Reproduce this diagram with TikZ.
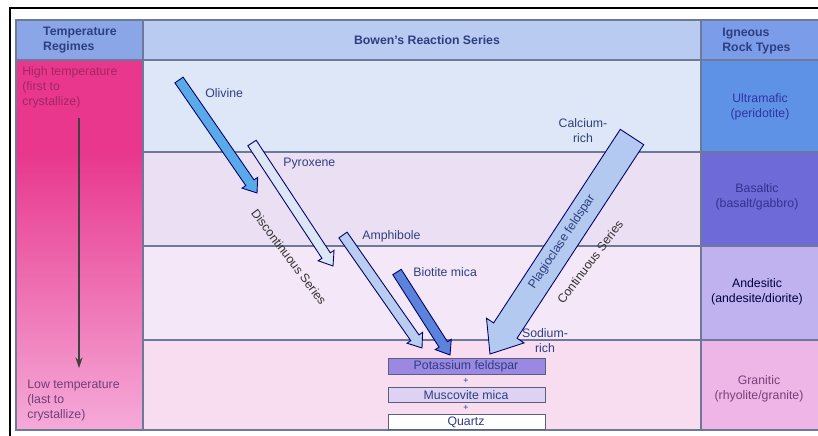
\documentclass[tikz,border=0pt]{standalone}
\usepackage{fontspec}
\setmainfont{Liberation Sans}
\usetikzlibrary{calc,arrows.meta}

% Farben der Tabelle
\definecolor{hdrleft}{HTML}{8AA6E6}
\definecolor{hdrmid}{HTML}{B9CBF1}
\definecolor{hdrright}{HTML}{7B9CE8}
\definecolor{tempdeep}{HTML}{E8378D}
\definecolor{templight}{HTML}{F5AAD9}
\definecolor{rowone}{HTML}{DDE7F7}
\definecolor{rowtwo}{HTML}{EBDFF4}
\definecolor{rowthree}{HTML}{F4E7F8}
\definecolor{rowfour}{HTML}{F8DDF1}
\definecolor{ultramafic}{HTML}{5D92E6}
\definecolor{basaltic}{HTML}{6E6AD8}
\definecolor{andesitic}{HTML}{BFB2EE}
\definecolor{granitic}{HTML}{EDB6E6}
\definecolor{gridgray}{HTML}{6E7898}
\definecolor{inkblue}{HTML}{2E3F80}
\definecolor{olivinecol}{HTML}{5AAAEA}
\definecolor{pyroxenecol}{HTML}{DDE6F5}
\definecolor{amphibolecol}{HTML}{B9CDF0}
\definecolor{biotitecol}{HTML}{5C83DB}
\definecolor{plagiocol}{HTML}{B3C9F0}
\definecolor{kfeldcol}{HTML}{9B88E2}
\definecolor{muscocol}{HTML}{DDD2F4}

% Blockpfeil: #1 Stil, #2 Ende, #3 Spitze, #4 halbe Schaftbreite, #5 halbe Kopfbreite, #6 Kopflänge
\newcommand{\reactionarrow}[6]{%
  \path ($(#3)!#6!(#2)$) coordinate (neck);
  \draw[#1] ($(#2)!#4!90:(#3)$) -- ($(neck)!#4!-90:(#2)$) -- ($(neck)!#5!-90:(#2)$)
    -- (#3) -- ($(neck)!#5!90:(#2)$) -- ($(neck)!#4!90:(#2)$) -- ($(#2)!#4!-90:(#3)$) -- cycle;
}

\begin{document}
\begin{tikzpicture}[x=0.02cm, y=-0.02cm,
  grid/.style={gridgray, line width=0.6pt},
  head/.style={font=\fontsize{7}{8.5}\selectfont\bfseries, text=inkblue, align=left, inner sep=0pt},
  lbl/.style={font=\fontsize{7}{8.5}\selectfont, text=inkblue, inner sep=0pt},
  rock/.style={font=\fontsize{7}{8.5}\selectfont, align=center, inner sep=0pt},
  mineral/.style={draw=gridgray!80!black, line width=0.5pt},
  series/.style={font=\fontsize{7}{8.5}\selectfont, text=black!80, inner sep=1pt}]

  \useasboundingbox (0,0) rectangle (818,436);

  % ==========================================
  % TABELLE : FLÄCHEN
  % ==========================================
  \fill[hdrleft] (16,20) rectangle (143,60);
  \fill[hdrmid] (143,20) rectangle (701,60);
  \fill[hdrright] (701,20) rectangle (818,60);

  % Temperaturspalte (dunkel oben, heller nach unten)
  \fill[tempdeep] (16,60) rectangle (143,152);
  \shade[top color=tempdeep, bottom color=templight] (16,152) rectangle (143,430);

  % Mittlerer Bereich
  \fill[rowone] (143,60) rectangle (701,152);
  \fill[rowtwo] (143,152) rectangle (701,246);
  \fill[rowthree] (143,246) rectangle (701,340);
  \fill[rowfour] (143,340) rectangle (701,430);

  % Gesteinsspalte
  \fill[ultramafic] (701,60) rectangle (818,152);
  \fill[basaltic] (701,152) rectangle (818,246);
  \fill[andesitic] (701,246) rectangle (818,340);
  \fill[granitic] (701,340) rectangle (818,430);

  % ==========================================
  % TABELLE : LINIEN
  % ==========================================
  \draw[black, line width=1.5pt] (10,436) -- (10,8) -- (818,8);
  \draw[grid] (818,20) -- (16,20) -- (16,430) -- (818,430);
  \draw[grid] (16,60) -- (818,60);
  \draw[grid] (143,20) -- (143,430);
  \draw[grid] (701,20) -- (701,430);
  \foreach \y in {152,246,340}
    \draw[grid] (143,\y) -- (818,\y);

  % ==========================================
  % KOPFZEILE
  % ==========================================
  \node[head] (regimes) at (80,40) {Temperature\\Regimes};
  \node[head] (bowen) at (427,40) {Bowen's Reaction Series};
  \node[head, anchor=west] (igneous) at (722,41) {Igneous\\Rock Types};

  % ==========================================
  % TEMPERATURSPALTE
  % ==========================================
  \node[lbl, text=tempdeep!70!black, align=left, anchor=north west] (hightemp) at (22,66)
    {High temperature\\(first to\\crystallize)};
  \node[lbl, text=black!55!magenta!60!blue, align=left, anchor=north west] (lowtemp) at (27,380)
    {Low temperature\\(last to\\crystallize)};
  \coordinate (tempstart) at (79,118);
  \coordinate (tempend) at (79,368);
  \draw[-{Stealth[length=6pt, width=4pt]}, black!75, line width=0.6pt] (tempstart) -- (tempend);

  % ==========================================
  % DISKONTINUIERLICHE REIHE
  % ==========================================
  \coordinate (olivine_tail) at (179,80);
  \coordinate (olivine_tip) at (257,193);
  \reactionarrow{fill=olivinecol, draw=black!60!blue, line width=0.5pt}{olivine_tail}{olivine_tip}{0.1cm}{0.19cm}{0.25cm}
  \node[lbl, anchor=west] (olivine) at (205,93) {Olivine};

  \coordinate (pyroxene_tail) at (252,143);
  \coordinate (pyroxene_tip) at (333,266);
  \reactionarrow{fill=pyroxenecol, draw=black!60!blue, line width=0.5pt}{pyroxene_tail}{pyroxene_tip}{0.1cm}{0.19cm}{0.25cm}
  \node[lbl, anchor=west] (pyroxene) at (283,164) {Pyroxene};

  \coordinate (amphibole_tail) at (343,235);
  \coordinate (amphibole_tip) at (422,348);
  \reactionarrow{fill=amphibolecol, draw=black!60!blue, line width=0.5pt}{amphibole_tail}{amphibole_tip}{0.1cm}{0.19cm}{0.25cm}
  \node[lbl, anchor=west] (amphibole) at (362,236) {Amphibole};

  \coordinate (biotite_tail) at (397,272);
  \coordinate (biotite_tip) at (450,355);
  \reactionarrow{fill=biotitecol, draw=black!60!blue, line width=0.5pt}{biotite_tail}{biotite_tip}{0.1cm}{0.19cm}{0.25cm}
  \node[lbl, anchor=west] (biotite) at (413,272) {Biotite mica};

  \node[series, rotate=-53] (discont) at (289,257) {Discontinuous Series};

  % ==========================================
  % KONTINUIERLICHE REIHE
  % ==========================================
  \coordinate (plagio_tail) at (632,137);
  \coordinate (plagio_tip) at (490,354);
  \reactionarrow{fill=plagiocol, draw=black!60!blue, line width=0.5pt}{plagio_tail}{plagio_tip}{0.28cm}{0.45cm}{0.56cm}
  \node[series, text=inkblue, rotate=56.5] (plagio) at (562,242) {Plagioclase feldspar};
  \node[series, rotate=53] (cont) at (590,262) {Continuous Series};
  \node[lbl, align=center] (calcium) at (583,131) {Calcium-\\rich};
  \node[lbl, align=center] (sodium) at (545,341) {Sodium-\\rich};

  % ==========================================
  % LETZTE MINERALE
  % ==========================================
  \draw[mineral, fill=kfeldcol] (388,358) rectangle (545,374);
  \node[lbl] (kfeld) at (466,366) {Potassium feldspar};
  \node[lbl, font=\fontsize{5}{5}\selectfont] (plusone) at (466,381) {+};
  \draw[mineral, fill=muscocol] (388,387) rectangle (545,402);
  \node[lbl] (musco) at (466,395) {Muscovite mica};
  \node[lbl, font=\fontsize{5}{5}\selectfont] (plustwo) at (466,408) {+};
  \draw[mineral, fill=white] (388,414) rectangle (545,429);
  \node[lbl] (quartz) at (466,422) {Quartz};

  % ==========================================
  % GESTEINSTYPEN
  % ==========================================
  \node[rock, text=blue!55!black!80] (ultra) at (760,107) {Ultramafic\\(peridotite)};
  \node[rock, text=blue!45!black!80] (basalt) at (757,197) {Basaltic\\(basalt/gabbro)};
  \node[rock, text=black!75!blue] (andes) at (757,292) {Andesitic\\(andesite/diorite)};
  \node[rock, text=black!55!magenta!70!blue] (granit) at (759,389) {Granitic\\(rhyolite/granite)};

\end{tikzpicture}
\end{document}
